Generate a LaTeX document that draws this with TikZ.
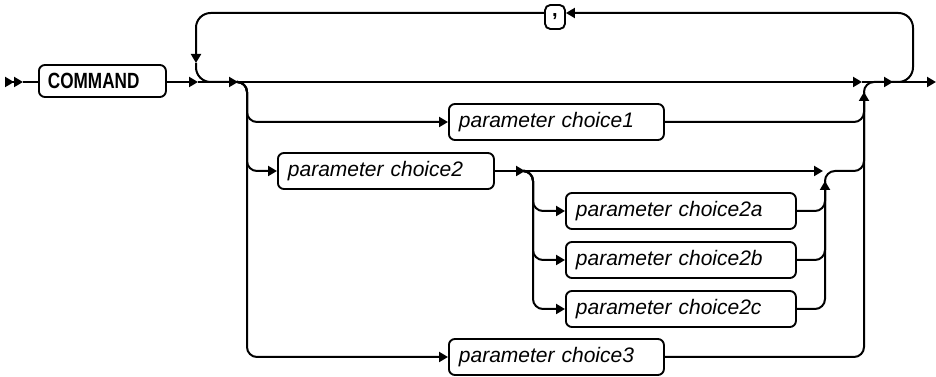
\documentclass[tikz,border=0pt]{standalone}
\usepackage{fontspec}
\setmainfont{Liberation Sans}
\newfontfamily\narrowfont[FakeStretch=0.78]{Liberation Sans}
\usetikzlibrary{arrows.meta}
\tikzset{
  conn/.style={line width=1.5pt},
  rcs/.style={rounded corners=7.5pt},
  rcb/.style={rounded corners=11pt},
  tip/.style={-{Triangle[length=6.75pt,width=7.5pt]}},
  pbox/.style={draw,line width=1.4pt,rounded corners=4.5pt,anchor=west,minimum height=27pt,
    inner xsep=7.5pt,inner ysep=0pt,align=left,font=\fontsize{15.75}{18}\selectfont\itshape},
  cmdbox/.style={pbox,font=\fontsize{16.5}{18}\narrowfont\bfseries},
  commabox/.style={draw,line width=1.4pt,rounded corners=4pt,minimum width=15pt,minimum height=18pt,
    inner sep=0pt,font=\fontsize{15}{18}\selectfont\bfseries}
}
\begin{document}
\begin{tikzpicture}[x=0.75pt,y=-0.75pt]
\useasboundingbox (0,0) rectangle (936,377);
% nodes
\node[cmdbox,text width=81.75pt,inner xsep=6.75pt,minimum height=24pt] (cmd) at (38,81) {COMMAND};
\node[commabox] (comma) at (555,17) {,};
\node[pbox,text width=146.25pt] (c1) at (448,122) {parameter choice1};
\node[pbox,text width=147pt] (c2) at (277,171) {parameter choice2};
\node[pbox,text width=157.5pt] (c2a) at (565,211) {parameter choice2a};
\node[pbox,text width=157.5pt] (c2b) at (565,260) {parameter choice2b};
\node[pbox,text width=157.5pt] (c2c) at (565,309) {parameter choice2c};
\node[pbox,text width=146.25pt] (c3) at (448,357) {parameter choice3};
% coordinates
\coordinate (st) at (5,82);
\coordinate (s1) at (23,82);
\coordinate (j0) at (198,82);
\coordinate (j1) at (238,82);
\coordinate (j2) at (862,82);
\coordinate (j3) at (893,82);
\coordinate (en) at (936,82);
\coordinate (vL) at (247,82);
\coordinate (vR) at (864,82);
\coordinate (aR) at (864,92);
\coordinate (lr) at (913,13);
\coordinate (ll) at (196,13);
\coordinate (aL) at (196,63);
\coordinate (i0) at (525,171);
\coordinate (i1) at (823,171);
\coordinate (vI) at (533,171);
\coordinate (aI) at (825,181);
\begin{scope}[conn]
% start
\draw[-{Triangle[length=6.75pt,width=7.5pt]Triangle[length=6.75pt,width=7.5pt]}] (st) -- (s1);
\draw (s1) -- (cmd.west |- s1);
% main line
\draw[tip] (cmd.east |- j0) -- (j0);
\draw[tip] (j0) -- (j1);
\draw[tip] (j1) -- (j2);
\draw[tip] (j2) -- (j3);
\draw[tip] (j3) -- (en);
% repeat loop
\draw[tip,rcb] (j3) -- (lr |- j3) -- (lr) -- (comma.east |- lr);
\draw[tip,rcb] (comma.west |- ll) -- (ll) -- (aL);
\draw[rcb] (aL) -- (aL |- j1) -- (j1);
% left branches
\draw[tip,rcs] (j1) -- (vL) -- (c1.west -| vL) -- (c1.west);
\draw[tip,rcs] (j1) -- (vL) -- (c2.west -| vL) -- (c2.west);
\draw[tip,rcs] (j1) -- (vL) -- (c3.west -| vL) -- (c3.west);
% right joins
\draw[rcs] (c1.east) -- (c1.east -| vR) -- (aR);
\draw[tip,rcs] (c3.east) -- (c3.east -| vR) -- (aR);
\draw[rcs] (aR) -- (vR) -- (j3);
% choice2 inner group
\draw[tip] (c2.east) -- (i0);
\draw[tip] (i0) -- (i1);
\draw[tip,rcs] (i0) -- (vI) -- (c2a.west -| vI) -- (c2a.west);
\draw[tip,rcs] (i0) -- (vI) -- (c2b.west -| vI) -- (c2b.west);
\draw[tip,rcs] (i0) -- (vI) -- (c2c.west -| vI) -- (c2c.west);
\draw[rcs] (c2a.east) -- (c2a.east -| aI) -- (aI);
\draw[rcs] (c2b.east) -- (c2b.east -| aI) -- (aI);
\draw[tip,rcs] (c2c.east) -- (c2c.east -| aI) -- (aI);
\draw[rcs] (aI) -- (aI |- i1) -- (vR |- i1) -- (aR);
\end{scope}
\end{tikzpicture}
\end{document}
